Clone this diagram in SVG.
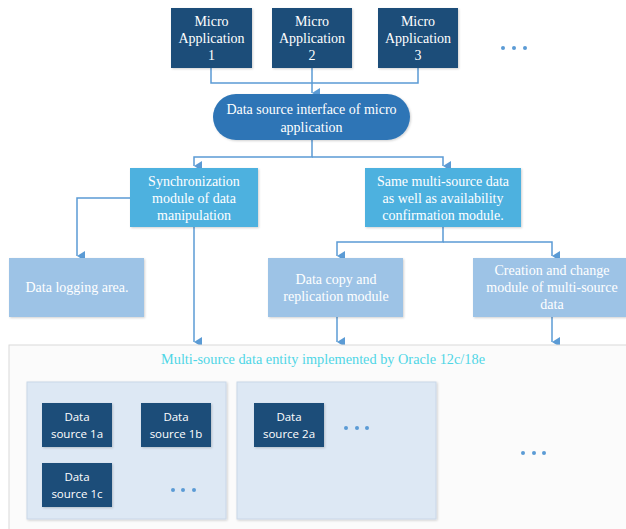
<svg xmlns="http://www.w3.org/2000/svg" width="626" height="529" viewBox="0 0 626 529">
<defs>
<marker id="ah" markerWidth="10" markerHeight="10" refX="5" refY="8" orient="auto" markerUnits="userSpaceOnUse">
<path d="M0,0 L10,0 L5,8 Z" fill="#5b9bd5"/>
</marker>
<filter id="sh" x="-10%" y="-10%" width="130%" height="130%">
<feDropShadow dx="1" dy="1" stdDeviation="1" flood-color="#000" flood-opacity="0.18"/>
</filter>
</defs>
<style>
.t{font-family:"Liberation Serif","Times New Roman",serif;font-size:14px;fill:#fff;text-anchor:middle}
.s{font-family:"Open Sans","Noto Sans",sans-serif;font-size:11.5px;fill:#fff;text-anchor:middle}
.ttl{font-family:"Liberation Serif","Times New Roman",serif;font-size:14.3px;fill:#4fd6e6;text-anchor:middle}
.navy{fill:#1f4e79}
.mid{fill:#2e75b6}
.sky{fill:#4db1df}
.light{fill:#9dc3e6}
.c{fill:none;stroke:#5b9bd5;stroke-width:1.5}
.dot{fill:#5b9bd5}
</style>
<rect width="626" height="529" fill="#fff"/>

<g id="connectors">
<path class="c" d="M211,68 V83 H418 V68"/>
<path class="c" d="M312,68 V93" marker-end="url(#ah)"/>
<path class="c" d="M312,140 V157 H194 V166" marker-end="url(#ah)"/>
<path class="c" d="M312,157 H443 V166" marker-end="url(#ah)"/>
<path class="c" d="M130,198 H77 V256" marker-end="url(#ah)"/>
<path class="c" d="M194,227 V342" marker-end="url(#ah)"/>
<path class="c" d="M443,227 V242 H337 V256" marker-end="url(#ah)"/>
<path class="c" d="M443,242 H552 V256" marker-end="url(#ah)"/>
<path class="c" d="M337,317 V342" marker-end="url(#ah)"/>
<path class="c" d="M552,317 V342" marker-end="url(#ah)"/>
</g>

<g id="app1"><rect class="navy" x="171" y="8" width="81" height="60" filter="url(#sh)"/>
<text class="t" x="211.5" y="26">Micro</text><text class="t" x="211.5" y="43">Application</text><text class="t" x="211.5" y="60">1</text></g>
<g id="app2"><rect class="navy" x="272" y="8" width="80" height="60" filter="url(#sh)"/>
<text class="t" x="312" y="26">Micro</text><text class="t" x="312" y="43">Application</text><text class="t" x="312" y="60">2</text></g>
<g id="app3"><rect class="navy" x="378" y="8" width="80" height="60" filter="url(#sh)"/>
<text class="t" x="418" y="26">Micro</text><text class="t" x="418" y="43">Application</text><text class="t" x="418" y="60">3</text></g>
<g id="dots-top"><circle class="dot" cx="503" cy="48" r="2"/><circle class="dot" cx="514" cy="48" r="2"/><circle class="dot" cx="525" cy="48" r="2"/></g>

<g id="interface"><rect class="mid" x="213" y="94" width="197" height="46" rx="23" filter="url(#sh)"/>
<text class="t" x="311.5" y="114">Data source interface of micro</text><text class="t" x="311.5" y="132">application</text></g>

<g id="sync"><rect class="sky" x="130" y="168" width="128" height="59" filter="url(#sh)"/>
<text class="t" x="194" y="186">Synchronization</text><text class="t" x="194" y="203">module of data</text><text class="t" x="194" y="220">manipulation</text></g>

<g id="same"><rect class="sky" x="365" y="168" width="156" height="59" filter="url(#sh)"/>
<text class="t" x="443" y="186">Same multi-source data</text><text class="t" x="443" y="203">as well as availability</text><text class="t" x="443" y="220">confirmation module.</text></g>

<g id="logging"><rect class="light" x="9" y="258" width="135" height="59" filter="url(#sh)"/>
<text class="t" x="77" y="292">Data logging area.</text></g>

<g id="copy"><rect class="light" x="268" y="258" width="135" height="59" filter="url(#sh)"/>
<text class="t" x="336" y="284">Data copy and</text><text class="t" x="336" y="301">replication module</text></g>

<g id="creation"><rect class="light" x="473" y="258" width="153" height="59" filter="url(#sh)"/>
<text class="t" x="552" y="275">Creation and change</text><text class="t" x="552" y="292">module of multi-source</text><text class="t" x="552" y="309">data</text></g>

<g id="entity">
<rect x="9" y="345" width="630" height="200" fill="#fbfbfb" stroke="#d9d9d9" stroke-width="1"/>
<text class="ttl" x="323" y="364">Multi-source data entity implemented by Oracle 12c/18e</text>
<rect x="27" y="382" width="199" height="137" fill="#dde8f4" stroke="#c9d7e8" stroke-width="1" filter="url(#sh)"/>
<rect x="237" y="382" width="199" height="137" fill="#dde8f4" stroke="#c9d7e8" stroke-width="1" filter="url(#sh)"/>
<g id="dots-p1"><circle class="dot" cx="173" cy="490" r="2"/><circle class="dot" cx="183" cy="490" r="2"/><circle class="dot" cx="194" cy="490" r="2"/></g>
<g id="dots-p2"><circle class="dot" cx="346" cy="428" r="2"/><circle class="dot" cx="357" cy="428" r="2"/><circle class="dot" cx="367" cy="428" r="2"/></g>
<g id="dots-out"><circle class="dot" cx="523" cy="453" r="2"/><circle class="dot" cx="534" cy="453" r="2"/><circle class="dot" cx="544" cy="453" r="2"/></g>
</g>

<g id="ds1a"><rect class="navy" x="42" y="403" width="70" height="44" filter="url(#sh)"/>
<text class="s" x="77" y="421">Data</text><text class="s" x="77" y="438">source 1a</text></g>
<g id="ds1b"><rect class="navy" x="141" y="403" width="70" height="44" filter="url(#sh)"/>
<text class="s" x="176" y="421">Data</text><text class="s" x="176" y="438">source 1b</text></g>
<g id="ds1c"><rect class="navy" x="42" y="463" width="70" height="44" filter="url(#sh)"/>
<text class="s" x="77" y="481">Data</text><text class="s" x="77" y="498">source 1c</text></g>
<g id="ds2a"><rect class="navy" x="254" y="403" width="70" height="44" filter="url(#sh)"/>
<text class="s" x="289" y="421">Data</text><text class="s" x="289" y="438">source 2a</text></g>
</svg>
